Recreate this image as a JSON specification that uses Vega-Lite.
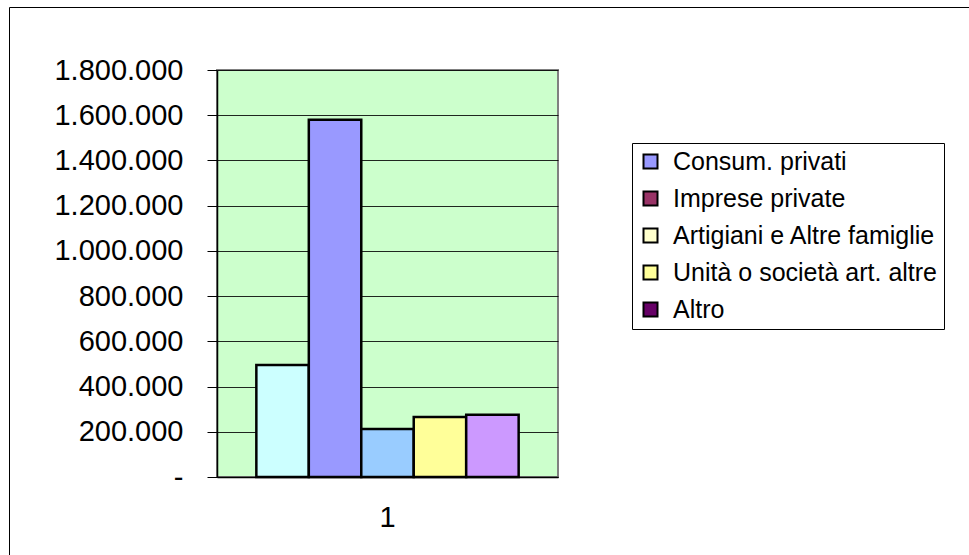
{
  "$schema": "https://vega.github.io/schema/vega-lite/v6.json",
  "autosize": {"type": "none"},
  "padding": {"left": 217, "top": 70, "right": 411, "bottom": 78},
  "width": 341,
  "height": 407,
  "background": "white",
  "config": {
    "locale": {"number": {"decimal": ",", "thousands": ".", "grouping": [3], "currency": ["€", ""]}},
    "font": "Liberation Sans",
    "view": {"fill": "#CCFFCC", "stroke": "#808080", "strokeWidth": 2},
    "axis": {"labelColor": "black", "domainColor": "black", "tickColor": "black", "labelFont": "Liberation Sans"}
  },
  "data": {
    "values": [
      {"cat": "1", "serie": "Consum. privati", "valore": 495000},
      {"cat": "1", "serie": "Imprese private", "valore": 1580000},
      {"cat": "1", "serie": "Artigiani e Altre famiglie", "valore": 212000},
      {"cat": "1", "serie": "Unità o società art. altre", "valore": 265000},
      {"cat": "1", "serie": "Altro", "valore": 275000}
    ]
  },
  "encoding": {
    "x": {
      "field": "cat",
      "type": "nominal",
      "scale": {"paddingInner": 0, "paddingOuter": 0.15},
      "axis": {"title": null, "ticks": false, "grid": false, "labelAngle": 0, "labelFontSize": 29, "labelPadding": 26, "labelBaseline": "top", "domainWidth": 1.5}
    },
    "xOffset": {
      "field": "serie",
      "type": "nominal",
      "sort": ["Consum. privati", "Imprese private", "Artigiani e Altre famiglie", "Unità o società art. altre", "Altro"],
      "scale": {"paddingInner": 0, "paddingOuter": 0}
    }
  },
  "layer": [
    {
      "mark": {"type": "bar", "stroke": "black", "strokeWidth": 2},
      "encoding": {
        "y": {
          "datum": 0,
          "type": "quantitative",
          "scale": {"domain": [0, 1800000], "nice": false},
          "axis": {
            "title": null,
            "grid": true,
            "values": [0, 200000, 400000, 600000, 800000, 1000000, 1200000, 1400000, 1600000, 1800000],
            "format": ",d",
            "labelExpr": "datum.value === 0 ? '-\u2007\u2007' : datum.label",
            "labelFontSize": 29,
            "labelPadding": 24,
            "tickSize": 10,
            "domainWidth": 1.5,
            "gridColor": "black",
            "gridWidth": 1,
            "gridOpacity": 0.85
          }
        },
        "opacity": {
          "field": "cat",
          "type": "nominal",
          "legend": {
            "title": null,
            "orient": "none",
            "legendX": -208,
            "legendY": -63,
            "padding": 470,
            "strokeColor": "black",
            "fillColor": null,
            "symbolSize": 0,
            "symbolFillColor": "transparent",
            "symbolStrokeColor": "transparent",
            "symbolStrokeWidth": 0,
            "symbolOpacity": 0,
            "labelOpacity": 0
          }
        },
        "fill": {
          "field": "serie",
          "type": "nominal",
          "scale": {
            "domain": ["Consum. privati", "Imprese private", "Artigiani e Altre famiglie", "Unità o società art. altre", "Altro"],
            "range": ["#9999FF", "#993366", "#FFFFCC", "#FFFF99", "#660066"]
          },
          "legend": {
            "title": null,
            "orient": "none",
            "legendX": 415,
            "legendY": 73,
            "padding": 6,
            "strokeColor": "black",
            "fillColor": "white",
            "symbolType": "square",
            "symbolSize": 196,
            "symbolStrokeColor": "black",
            "symbolStrokeWidth": 2,
            "symbolOpacity": 1,
            "labelFontSize": 25,
            "labelFont": "Liberation Sans",
            "labelColor": "black",
            "labelOffset": 10,
            "rowPadding": 11,
            "labelLimit": 400
          }
        }
      }
    },
    {
      "mark": {"type": "bar", "stroke": "black", "strokeWidth": 2.5},
      "encoding": {
        "y": {"field": "valore", "type": "quantitative"},
        "fill": {
          "field": "serie",
          "type": "nominal",
          "scale": {
            "domain": ["Consum. privati", "Imprese private", "Artigiani e Altre famiglie", "Unità o società art. altre", "Altro"],
            "range": ["#CCFFFF", "#9999FF", "#99CCFF", "#FFFF99", "#CC99FF"]
          },
          "legend": null
        }
      }
    }
  ],
  "resolve": {"scale": {"fill": "independent"}, "legend": {"fill": "independent"}}
}
